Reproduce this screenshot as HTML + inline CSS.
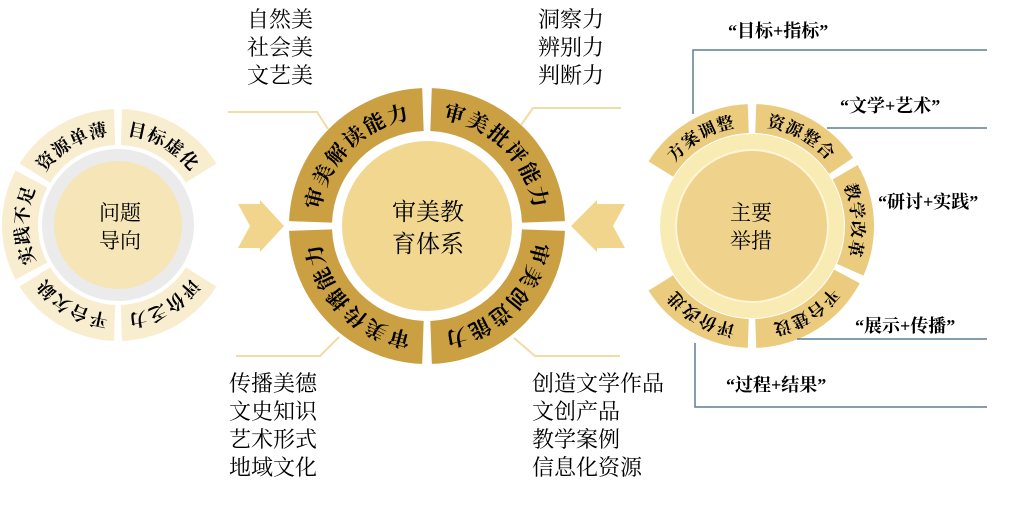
<!DOCTYPE html>
<html><head><meta charset="utf-8">
<style>
html,body{margin:0;padding:0;background:#fff;width:1014px;height:526px;overflow:hidden}
svg{display:block}
text{font-family:"Liberation Serif","Noto Serif CJK SC",serif;fill:#000}
</style></head><body>
<svg id="s" width="1014" height="526" xmlns="http://www.w3.org/2000/svg">
<defs id="d"></defs>
<g id="g"></g>
<g stroke="#f0dca4" stroke-width="2" fill="none">
<polyline points="228,112 317,112 328,129"/>
<polyline points="621,108 533,108 521,125"/>
<polyline points="236,356 320,356 339,337"/>
<polyline points="620,356 535,356 514,338"/>
</g>
<g stroke="#5f7d93" stroke-width="1.5" fill="none">
<polyline points="693,114 693,50 987,50"/>
<polyline points="827,128 987,128"/>
<polyline points="797,339 987,339"/>
<polyline points="695,343 695,407 987,407"/>
</g>
<polygon points="238,204 260,204 260,200 284,226 260,252 260,248 238,248 250,226" fill="#f1d58d"/>
<polygon points="625,204 597,204 597,200 571,226 597,252 597,248 625,248 613,226" fill="#f1d58d"/>
<g font-size="22">
<text x="247" y="27">自然美</text><text x="247" y="55">社会美</text><text x="247" y="83">文艺美</text>
<text x="538" y="27">洞察力</text><text x="538" y="55">辨别力</text><text x="538" y="83">判断力</text>
<text x="229" y="391">传播美德</text><text x="229" y="419">文史知识</text><text x="229" y="447">艺术形式</text><text x="229" y="475">地域文化</text>
<text x="532" y="391">创造文学作品</text><text x="532" y="419">文创产品</text><text x="532" y="447">教学案例</text><text x="532" y="475">信息化资源</text>
</g>
<g font-size="18" font-weight="bold">
<text x="728" y="37">“目标+指标”</text>
<text x="840" y="112">“文学+艺术”</text>
<text x="878" y="208">“研讨+实践”</text>
<text x="855" y="332">“展示+传播”</text>
<text x="726" y="391">“过程+结果”</text>
</g>
<g font-size="24" text-anchor="middle">
<text x="428" y="220">审美教</text><text x="428" y="252">育体系</text>
</g>
<g font-size="21" text-anchor="middle">
<text x="120" y="220">问题</text><text x="120" y="248">导向</text>
<text x="751" y="220">主要</text><text x="751" y="248">举措</text>
</g>
</svg>
<script>
var NS="http://www.w3.org/2000/svg",g=document.getElementById('g'),d=document.getElementById('d'),id=0;
function P(cx,cy,r,a){a=a*Math.PI/180;return (cx+r*Math.cos(a)).toFixed(2)+","+(cy-r*Math.sin(a)).toFixed(2);}
function el(t,at,par){var e=document.createElementNS(NS,t);for(var k in at)e.setAttribute(k,at[k]);(par||g).appendChild(e);return e;}
function wedge(cx,cy,ri,ro,a1,a2,fill){
 el('path',{d:"M"+P(cx,cy,ro,a1)+" A"+ro+","+ro+" 0 0 1 "+P(cx,cy,ro,a2)+" L"+P(cx,cy,ri,a2)+" A"+ri+","+ri+" 0 0 0 "+P(cx,cy,ri,a1)+" Z",fill:fill});}
function label(cx,cy,r,a1,a2,txt,fs,ls){
 var n="p"+(id++);
 el('path',{id:n,d:"M"+P(cx,cy,r,a1)+" A"+r+","+r+" 0 0 1 "+P(cx,cy,r,a2),fill:"none"},d);
 var t=el('text',{'font-size':fs,'font-weight':'bold','text-anchor':'middle','letter-spacing':ls||0});
 var tp=document.createElementNS(NS,'textPath');tp.setAttribute('href','#'+n);tp.setAttributeNS("http://www.w3.org/1999/xlink","xlink:href","#"+n);tp.setAttribute('startOffset','50%');tp.textContent=txt;t.appendChild(tp);}
var cx=427,cy=226;
wedge(cx,cy,95,138,178,92,"#caa043");wedge(cx,cy,95,138,88,2,"#caa043");
wedge(cx,cy,95,138,-2,-88,"#caa043");wedge(cx,cy,95,138,-92,-178,"#caa043");
el('circle',{cx:cx,cy:cy,r:85,fill:"#f2d790"});
label(cx,cy,108,178,92,"审美解读能力",21,2);label(cx,cy,108,88,2,"审美批评能力",21,2);
label(cx,cy,108,-2,-88,"审美创造能力",21,2);label(cx,cy,108,-92,-178,"审美传播能力",21,2);
var lx=118,ly=225,L=[[88,32,"目标虚化"],[148,92,"资源单薄"],[208,152,"实践不足"],[268,212,"平台欠缺"],[328,272,"评价乏力"]];
L.forEach(function(s){wedge(lx,ly,80,116,s[0],s[1],"#f8edcf");});
el('circle',{cx:lx,cy:ly,r:76,fill:"#ebebeb"});
el('circle',{cx:lx,cy:ly,r:64,fill:"#f6e5b6"});
L.forEach(function(s){label(lx,ly,90,s[0],s[1],s[2],18,1);});
var rx=752,ry=226,R=[[148,92,"方案调整"],[88,34,"资源整合"],[30,-24,"教学改革"],[-28,-88,"平台建设"],[-92,-148,"评价改进"]];
R.forEach(function(s){wedge(rx,ry,93,122,s[0],s[1],"#ebcb7e");});
el('circle',{cx:rx,cy:ry,r:92,fill:"#f8ebb4"});
el('circle',{cx:rx,cy:ry,r:77,fill:"#fff6d6"});
el('circle',{cx:rx,cy:ry,r:75,fill:"#efd38d"});
R.forEach(function(s){label(rx,ry,100,s[0],s[1],s[2],17,1);});
</script>
</body></html>
